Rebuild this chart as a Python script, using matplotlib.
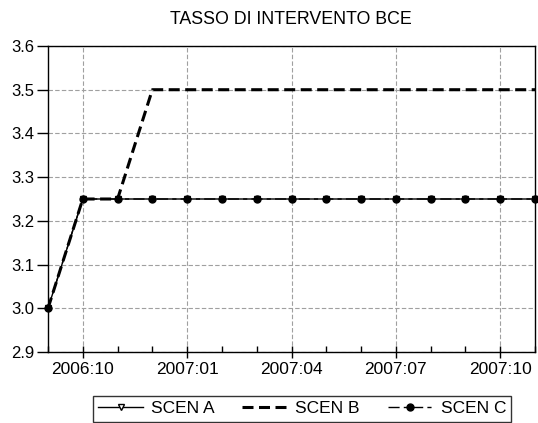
import matplotlib
matplotlib.use("Agg")
import matplotlib.pyplot as plt
from matplotlib.ticker import MultipleLocator, FormatStrFormatter

plt.rcParams['font.family'] = ['Liberation Sans', 'DejaVu Sans']

# monthly data 2006:09 .. 2007:11
months = list(range(15))
tick_pos = [1, 4, 7, 10, 13]
tick_labels = ['2006:10', '2007:01', '2007:04', '2007:07', '2007:10']
scen_a = [3.00, 3.25, 3.25, 3.25, 3.25, 3.25, 3.25, 3.25, 3.25, 3.25, 3.25, 3.25, 3.25, 3.25, 3.25]
scen_b = [3.00, 3.25, 3.25, 3.50, 3.50, 3.50, 3.50, 3.50, 3.50, 3.50, 3.50, 3.50, 3.50, 3.50, 3.50]
scen_c = [3.00, 3.25, 3.25, 3.25, 3.25, 3.25, 3.25, 3.25, 3.25, 3.25, 3.25, 3.25, 3.25, 3.25, 3.25]

fig = plt.figure(figsize=(5.38, 4.23), dpi=100)
ax = fig.add_axes([48 / 538, 1 - 352 / 423, 487 / 538, 306 / 423])

ax.plot(months, scen_a, color='black', linewidth=1.0, marker='v', markersize=4,
        markerfacecolor='white', markeredgecolor='black', label='SCEN A', clip_on=False)
ax.plot(months, scen_b, color='black', linewidth=2.2, linestyle=(0, (3.6, 1.8)),
        label='SCEN B', clip_on=False)
ax.plot(months, scen_c, color='black', linewidth=1.0, linestyle=(0, (8, 3, 3, 3)),
        marker='o', markersize=5, label='SCEN C', clip_on=False)

ax.set_xlim(0, 14)
ax.set_ylim(2.9, 3.6)
ax.yaxis.set_major_locator(MultipleLocator(0.1))
ax.yaxis.set_major_formatter(FormatStrFormatter('%.1f'))
ax.set_xticks(tick_pos)
ax.set_xticklabels(tick_labels)
ax.set_xticks(months, minor=True)

ax.grid(True, which='major', color='#a0a0a0', linestyle=(0, (4, 2)), linewidth=0.8)
ax.tick_params(axis='x', which='major', direction='inout', length=8, width=1.0,
               labelsize=12.5, pad=3)
ax.tick_params(axis='x', which='minor', direction='in', length=4, width=1.0)
ax.tick_params(axis='y', which='major', direction='out', length=8, width=1.0,
               labelsize=12, pad=1.5)
for s in ax.spines.values():
    s.set_linewidth(1.0)

fig.text(291 / 538, 1 - 19 / 423, 'TASSO DI INTERVENTO BCE', ha='center', va='center',
         fontsize=12.8)

fig.legend(loc='upper center', bbox_to_anchor=(302 / 538, 1 - 396 / 423), ncol=3,
           fontsize=12.5, frameon=True, fancybox=False, edgecolor='black',
           handlelength=2.6, columnspacing=1.6, handletextpad=0.45,
           borderpad=0.3, borderaxespad=0)

fig.savefig('out.png', dpi=100)
